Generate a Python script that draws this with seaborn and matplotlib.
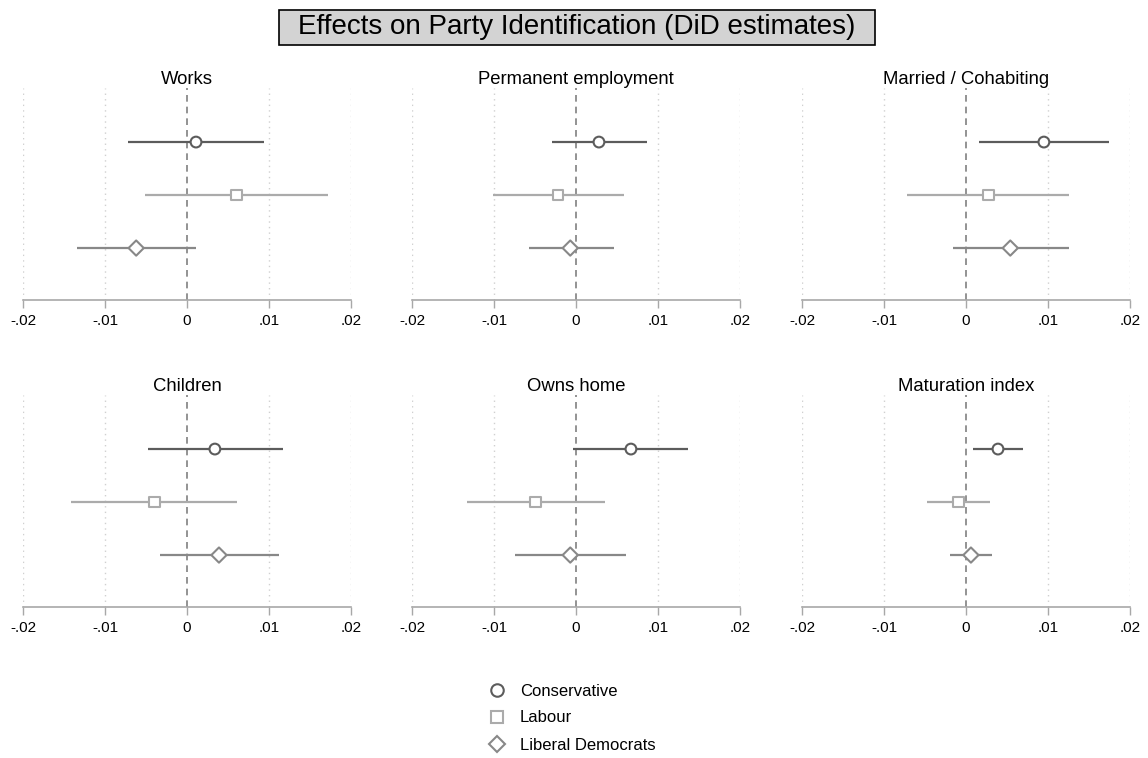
import numpy as np
import pandas as pd
import matplotlib
matplotlib.use("Agg")
import matplotlib.pyplot as plt
from matplotlib.lines import Line2D
from matplotlib.patches import Rectangle
import seaborn as sns

# ---------------- data ----------------
panels = ["Works", "Permanent employment", "Married / Cohabiting",
          "Children", "Owns home", "Maturation index"]
parties = ["Conservative", "Labour", "Liberal Democrats"]

con_est = [0.0011, 0.0028, 0.0095, 0.0034, 0.0067, 0.0039]
con_lo = [-0.0072, -0.0029, 0.0016, -0.0048, -0.0004, 0.0009]
con_hi = [0.0094, 0.0087, 0.0174, 0.0117, 0.0137, 0.0070]

lab_est = [0.0060, -0.0022, 0.0027, -0.0040, -0.0049, -0.0009]
lab_lo = [-0.0051, -0.0101, -0.0072, -0.0142, -0.0133, -0.0047]
lab_hi = [0.0172, 0.0058, 0.0125, 0.0061, 0.0035, 0.0029]

ld_est = [-0.0062, -0.0007, 0.0054, 0.0039, -0.0007, 0.0006]
ld_lo = [-0.0134, -0.0057, -0.0016, -0.0033, -0.0074, -0.0020]
ld_hi = [0.0011, 0.0046, 0.0125, 0.0112, 0.0061, 0.0032]

xticks = [-0.02, -0.01, 0, 0.01, 0.02]
xticklabels = ["-.02", "-.01", "0", ".01", ".02"]

# ---------------- styling ----------------
colors = {"Conservative": "#5c5c5c", "Labour": "#ababab", "Liberal Democrats": "#888888"}
markers = {"Conservative": "o", "Labour": "s", "Liberal Democrats": "D"}

rows = []
for i, p in enumerate(panels):
    for j, (party, est, lo, hi) in enumerate(zip(
            parties, [con_est, lab_est, ld_est], [con_lo, lab_lo, ld_lo], [con_hi, lab_hi, ld_hi])):
        rows.append(dict(panel=p, party=party, pos=j + 1, est=est[i], lo=lo[i], hi=hi[i]))
df = pd.DataFrame(rows)

sns.set_theme(style="white")
plt.rcParams["font.family"] = ["Liberation Sans", "DejaVu Sans"]

W, H = 1148, 758
fig = plt.figure(figsize=(W / 100, H / 100), dpi=100)

lefts = [23, 412, 802]
tops = [88, 395]
aw, ah = 328, 212

for k, p in enumerate(panels):
    r, c = divmod(k, 3)
    ax = fig.add_axes([lefts[c] / W, 1 - (tops[r] + ah) / H, aw / W, ah / H])
    sub = df[df.panel == p]
    # reference lines
    for t in xticks:
        if t == 0:
            ax.axvline(t, color="#808080", lw=1.2, ls=(0, (4, 3)), zorder=1)
        else:
            ax.axvline(t, color="#d0d0d0", lw=1.0, ls=(0, (1, 3)), zorder=1)
    for party in parties:
        s = sub[sub.party == party]
        ax.hlines(s.pos, s.lo, s.hi, color=colors[party], lw=1.6, zorder=2)
    sns.scatterplot(data=sub, x="est", y="pos", hue="party", style="party",
                    palette=colors, markers=markers, hue_order=parties,
                    style_order=parties, s=60, facecolor="white",
                    linewidth=1.5, legend=False, ax=ax, zorder=3)
    coll = ax.collections[-1]
    coll.set_edgecolors([colors[pt] for pt in sub.party])
    coll.set_facecolors("white")
    ax.set_xlim(-0.02, 0.02)
    ax.set_ylim(3.98, -0.02)
    ax.set_xticks(xticks)
    ax.set_xticklabels(xticklabels, fontsize=11, color="black")
    ax.set_yticks([])
    ax.set_xlabel("")
    ax.set_ylabel("")
    for sp in ["left", "right", "top"]:
        ax.spines[sp].set_visible(False)
    ax.spines["bottom"].set_color("#a8a8a8")
    ax.spines["bottom"].set_linewidth(1.2)
    ax.tick_params(axis="x", bottom=True, direction="out", length=6, width=1.0,
                   color="#a8a8a8", pad=4)
    ax.set_title(p, fontsize=13.3, color="black", pad=3)
    ax.set_facecolor("white")

# title with box
fig.patches.append(Rectangle((279 / W, 1 - 45 / H), (875 - 279) / W, 35 / H,
                             transform=fig.transFigure, facecolor="#d3d3d3",
                             edgecolor="black", lw=1.2, zorder=0))
fig.text(577 / W, 1 - 27.5 / H, "Effects on Party Identification (DiD estimates)",
         ha="center", va="center", fontsize=20, color="black")

# legend
handles = [Line2D([], [], ls="none", marker=markers[pt],
                  markersize=9 if pt != "Liberal Democrats" else 8,
                  markerfacecolor="white", markeredgecolor=colors[pt], markeredgewidth=1.5)
           for pt in parties]
fig.legend(handles, parties, loc="center", bbox_to_anchor=(572 / W, 1 - 718 / H),
           frameon=False, fontsize=12, handletextpad=0.9, labelspacing=0.72,
           handlelength=1.0, labelcolor="black")

fig.savefig("out.png", dpi=100, facecolor="white")
